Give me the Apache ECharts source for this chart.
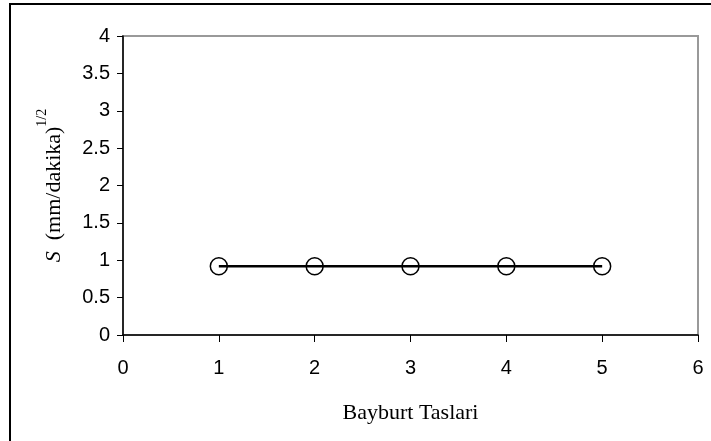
<!DOCTYPE html>
<html>
<head>
<meta charset="utf-8">
<script src="https://cdn.jsdelivr.net/npm/echarts@6/dist/echarts.min.js"></script>
<style>
  html, body { margin: 0; padding: 0; background: #fff; }
  #chart { width: 711px; height: 441px; }
</style>
</head>
<body>
<div id="chart"></div>
<script>
// Sample positions along the x axis and the measured S values
const stones = [1, 2, 3, 4, 5];
const sValues = [0.92, 0.92, 0.92, 0.92, 0.92];

const xTicks = { min: 0, max: 6, interval: 1 };
const yTicks = { min: 0, max: 4, interval: 0.5 };

const points = stones.map((x, i) => [x, sValues[i]]);

const chart = echarts.init(document.getElementById('chart'));
chart.setOption({
  animation: false,
  backgroundColor: '#fff',
  graphic: [{
    type: 'rect',
    shape: { x: 10, y: 4, width: 900, height: 600 },
    style: { fill: 'none', stroke: '#000', lineWidth: 2 },
    silent: true,
    z: -1
  }],
  grid: {
    left: 123, right: 13, top: 36, bottom: 106,
    show: true,
    borderColor: '#999',
    borderWidth: 2,
    backgroundColor: '#fff'
  },
  xAxis: {
    type: 'value',
    min: xTicks.min, max: xTicks.max, interval: xTicks.interval,
    name: 'Bayburt Taslari',
    nameLocation: 'middle',
    nameGap: 67,
    nameTextStyle: { fontFamily: 'Liberation Serif', fontSize: 22, color: '#000' },
    axisLine: { show: true, onZero: false, lineStyle: { color: '#000', width: 1.5 } },
    axisTick: { show: true, length: 7, lineStyle: { color: '#000' } },
    axisLabel: { fontFamily: 'Liberation Sans', fontSize: 20, color: '#000', margin: 23 },
    splitLine: { show: false }
  },
  yAxis: {
    type: 'value',
    min: yTicks.min, max: yTicks.max, interval: yTicks.interval,
    name: '{it|S}{n|  (mm/dakika)}{sup|1/2}',
    nameLocation: 'middle',
    nameGap: 58,
    nameRotate: 90,
    nameTextStyle: {
      color: '#000',
      rich: {
        it: { fontFamily: 'Liberation Serif', fontStyle: 'italic', fontSize: 22, color: '#000', lineHeight: 30, verticalAlign: 'bottom' },
        n: { fontFamily: 'Liberation Serif', fontSize: 22, color: '#000', lineHeight: 30, verticalAlign: 'bottom' },
        sup: { fontFamily: 'Liberation Serif', fontSize: 14, color: '#000', lineHeight: 30, verticalAlign: 'top' }
      }
    },
    axisLine: { show: true, lineStyle: { color: '#000', width: 1.5 } },
    axisTick: { show: true, length: 6, lineStyle: { color: '#000' } },
    axisLabel: { fontFamily: 'Liberation Sans', fontSize: 20, color: '#000', margin: 13 },
    splitLine: { show: false }
  },
  series: [{
    type: 'line',
    data: points,
    symbol: 'circle',
    symbolSize: 17,
    itemStyle: { color: 'rgba(0,0,0,0)', borderColor: '#000', borderWidth: 1.5 },
    lineStyle: { color: '#000', width: 2.5 },
    z: 3
  }]
});
</script>
</body>
</html>
